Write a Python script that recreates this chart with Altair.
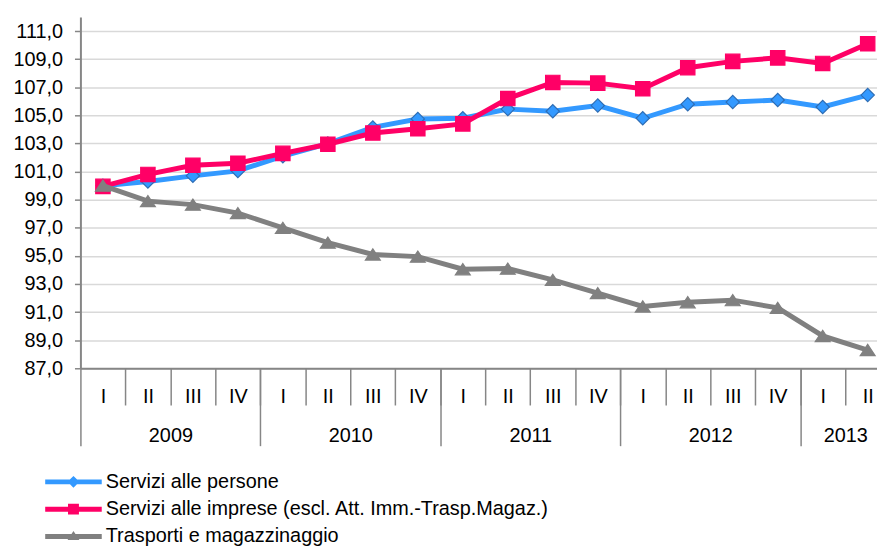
import altair as alt
import pandas as pd

# ---------------- data ----------------
years = ["2009", "2010", "2011", "2012", "2013"]
quarters_per_year = [4, 4, 4, 4, 2]
quarter_names = ["I", "II", "III", "IV"]

series = [
    "Servizi alle persone",
    "Servizi alle imprese (escl. Att. Imm.-Trasp.Magaz.)",
    "Trasporti e magazzinaggio",
]
persone = [100.0, 100.3, 100.7, 101.05, 102.1, 103.0, 104.15, 104.75, 104.8,
           105.45, 105.3, 105.7, 104.8, 105.8, 105.95, 106.1, 105.6, 106.45]
imprese = [99.95, 100.8, 101.45, 101.6, 102.3, 102.95, 103.75, 104.05, 104.4,
           106.2, 107.35, 107.3, 106.9, 108.4, 108.85, 109.1, 108.7, 110.1]
trasporti = [100.0, 98.9, 98.65, 98.05, 97.0, 95.95, 95.1, 94.95, 94.05,
             94.1, 93.3, 92.35, 91.4, 91.7, 91.85, 91.3, 89.3, 88.3]

y_ticks = [87, 89, 91, 93, 95, 97, 99, 101, 103, 105, 107, 109, 111]
colors = ["#3399FF", "#FF0066", "#808080"]
marker_shapes = ["diamond", "square", "M0,-0.75L1,0.75L-1,0.75Z"]
marker_sizes = [180, 210, 225]
marker_strokes = ["#2E6DB4", "#FF0066", "#808080"]

# ---------------- derived tables ----------------
quarter_labels = []
year_centers, year_bounds = [], []
start = 0
for y, n in zip(years, quarters_per_year):
    quarter_labels += quarter_names[:n]
    year_bounds.append(start - 0.5)
    year_centers.append(start + (n - 1) / 2)
    start += n
n_q = len(quarter_labels)
quarter_bounds = [i + 0.5 for i in range(n_q - 1)]

rows = []
for s, vals in zip(series, [persone, imprese, trasporti]):
    for i, v in enumerate(vals):
        rows.append({"idx": i, "series": s, "value": v})
df = pd.DataFrame(rows)

FONT = "Liberation Sans, Arial, sans-serif"
GRAY = "#868686"

xscale = alt.Scale(domain=[-0.5, 17.207], nice=False, zero=False)
yscale = alt.Scale(domain=[87, 112], nice=False, zero=False)

q_expr = "[" + ",".join("'%s'" % q for q in quarter_labels) + "][datum.value]"
y_expr = "[" + ",".join("'%s'" % y for y in years) + "][floor(datum.value/4)]"

y_axis = alt.Axis(values=y_ticks,
                  labelExpr="replace(format(datum.value, '.1f'), '.', ',')",
                  labelFont=FONT, labelFontSize=20, labelColor="#000000",
                  labelPadding=12, tickSize=6, tickColor=GRAY, tickWidth=1.5,
                  domainColor=GRAY, domainWidth=2, gridColor="#D9D9D9",
                  gridWidth=1.5, grid=True, title=None)

x_axes = [
    # year separators + bottom domain line
    alt.Axis(orient="bottom", values=year_bounds, labels=False, ticks=True,
             tickSize=78, tickColor=GRAY, tickWidth=1.5, domain=True,
             domainColor=GRAY, domainWidth=2, grid=False, title=None),
    # quarter separators
    alt.Axis(orient="bottom", values=quarter_bounds, labels=False,
             tickSize=37, tickColor=GRAY, tickWidth=1.5, domain=False,
             grid=False, title=None),
    # quarter labels
    alt.Axis(orient="bottom", values=list(range(n_q)), labelExpr=q_expr,
             ticks=False, tickSize=0, domain=False, grid=False,
             labelFont=FONT, labelFontSize=20, labelColor="#000000",
             labelBaseline="middle", labelPadding=28, title=None),
    # year labels
    alt.Axis(orient="bottom", values=year_centers, labelExpr=y_expr,
             ticks=False, tickSize=0, domain=False, grid=False,
             labelFont=FONT, labelFontSize=20, labelColor="#000000",
             labelBaseline="middle", labelPadding=68, title=None),
]


def X(axis):
    return alt.X("idx:Q", scale=xscale, axis=axis)


def Y():
    return alt.Y("value:Q", scale=yscale, axis=y_axis)


base = alt.Chart(df)
layers = []
axis_i = 0
for k, s in enumerate(series):
    sub = base.transform_filter(alt.datum.series == s)
    ax = x_axes[axis_i] if axis_i < len(x_axes) else None
    axis_i += 1
    layers.append(sub.mark_line(strokeWidth=5, color=colors[k]).encode(x=X(ax), y=Y()))
    ax = x_axes[axis_i] if axis_i < len(x_axes) else None
    axis_i += 1
    layers.append(sub.mark_point(filled=True, shape=marker_shapes[k],
                                 size=marker_sizes[k], opacity=1,
                                 color=colors[k], stroke=marker_strokes[k],
                                 strokeWidth=1.2).encode(x=X(ax), y=Y()))

legend_paths = [
    "M-5.7,-0.5L5.7,-0.5L5.7,0.5L-5.7,0.5ZM0,-1.2L1.2,0L0,1.2L-1.2,0Z",
    "M-5.7,-0.5L5.7,-0.5L5.7,0.5L-5.7,0.5ZM-1.1,-1.1L1.1,-1.1L1.1,1.1L-1.1,1.1Z",
    "M-5.7,-0.5L5.7,-0.5L5.7,0.5L-5.7,0.5ZM0,-1.1L1.2,0.7L-1.2,0.7Z",
]
leg = alt.Legend(orient="none", legendX=-17, legendY=458.5, title=None,
                 labelFont=FONT, labelFontSize=20, labelColor="#000000",
                 labelLimit=800,
                 symbolSize=100, symbolOpacity=1, symbolStrokeWidth=0,
                 rowPadding=7.5, labelOffset=22.5, padding=0, direction="vertical")

legend_layer = base.mark_point(filled=True, opacity=0).encode(
    x=X(None),
    y=Y(),
    color=alt.Color("series:N", scale=alt.Scale(domain=series, range=colors), legend=leg),
    shape=alt.Shape("series:N", scale=alt.Scale(domain=series, range=legend_paths),
                    legend=leg),
)
layers.append(legend_layer)

chart = alt.layer(*layers).resolve_axis(
    x="independent"
).properties(
    width=803, height=354,
    autosize=alt.AutoSizeParams(type="none"),
    padding={"left": 73, "top": 7, "right": 0, "bottom": 181},
    background="white",
).configure_view(stroke=None)

chart.save("out.html", embed_options={"renderer": "svg", "actions": False})
